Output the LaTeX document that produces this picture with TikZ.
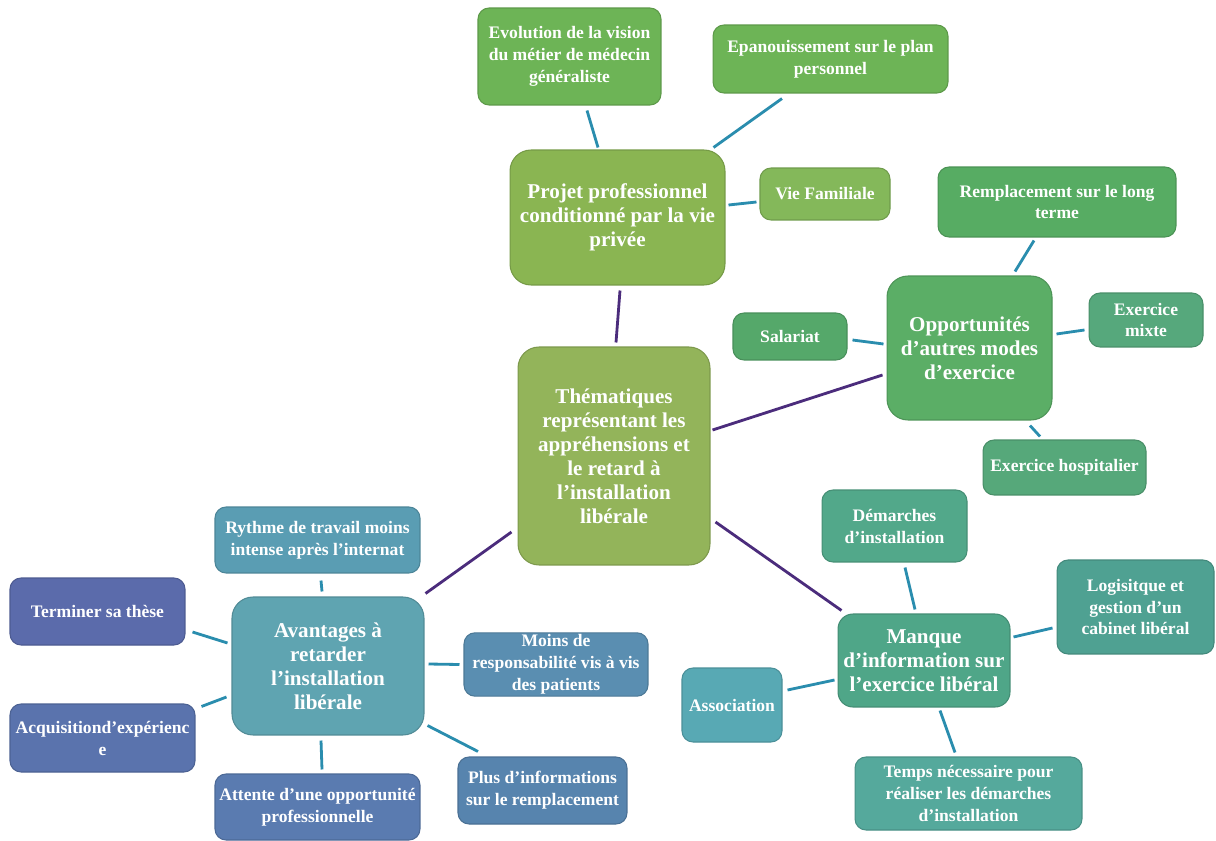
\documentclass[tikz,border=0pt]{standalone}
\usepackage{fontspec}
\setmainfont{Liberation Serif}
\usetikzlibrary{calc}
\definecolor{cCenter}{HTML}{93B45A}
\definecolor{cProjet}{HTML}{8AB552}
\definecolor{cVie}{HTML}{84B85A}
\definecolor{cEvo}{HTML}{6DB456}
\definecolor{cOpp}{HTML}{5BAE66}
\definecolor{cRempl}{HTML}{57AC63}
\definecolor{cSal}{HTML}{55A86A}
\definecolor{cMixte}{HTML}{56A87C}
\definecolor{cHosp}{HTML}{56A87A}
\definecolor{cManque}{HTML}{4FA688}
\definecolor{cDem}{HTML}{52A88A}
\definecolor{cLogi}{HTML}{4FA192}
\definecolor{cAssoc}{HTML}{58A9B4}
\definecolor{cTemps}{HTML}{55A99C}
\definecolor{cAvant}{HTML}{5FA4B1}
\definecolor{cRythme}{HTML}{5A9DB3}
\definecolor{cMoins}{HTML}{5A8EB1}
\definecolor{cPlus}{HTML}{5784AE}
\definecolor{cTerm}{HTML}{5B6BAB}
\definecolor{cAcq}{HTML}{5A73AD}
\definecolor{cAtt}{HTML}{5A7BB0}
\definecolor{cLink}{HTML}{2A8DAE}
\definecolor{cMain}{HTML}{4B2C7C}
\begin{document}
\begin{tikzpicture}[x=0.02cm,y=-0.02cm,
  box/.style={rectangle, rounded corners=0.22cm, fill=#1, draw=#1!85!black, line width=0.6pt,
    text=white, align=center, inner sep=1pt,
    font=\bfseries\fontsize{10}{12.5}\selectfont},
  bigbox/.style={box=#1, rounded corners=0.42cm, font=\bfseries\fontsize{12}{13.7}\selectfont},
  link/.style={draw=cLink, line width=1.6pt},
  mainlink/.style={draw=cMain, line width=1.6pt}]
\useasboundingbox (0,0) rectangle (1216,841);
\fill[white] (0,0) rectangle (1216,841);

% top group
\node[box=cEvo, minimum width=3.66cm, minimum height=1.94cm] (evo) at (569.5,56.5) {Evolution de la vision\\du métier de médecin\\généraliste};
\node[box=cEvo, minimum width=4.70cm, minimum height=1.36cm] (epa) at (830.5,59) {Epanouissement sur le plan\\personnel};
\node[bigbox=cProjet, minimum width=4.30cm, minimum height=2.70cm] (projet) at (617.5,217.5) {Projet professionnel\\conditionné par la vie\\privée};
\node[box=cVie, minimum width=2.60cm, minimum height=1.04cm] (vie) at (825,194) {Vie Familiale};

% right group
\node[box=cRempl, minimum width=4.76cm, minimum height=1.40cm] (rempl) at (1057,202) {Remplacement sur le long\\terme};
\node[bigbox=cOpp, minimum width=3.30cm, minimum height=2.88cm] (opp) at (969.5,348) {Opportunités\\d'autres modes\\d'exercice};
\node[box=cSal, minimum width=2.28cm, minimum height=0.94cm] (sal) at (790,336.5) {Salariat};
\node[box=cMixte, minimum width=2.28cm, minimum height=1.08cm] (mixte) at (1146,320) {Exercice\\mixte};
\node[box=cHosp, minimum width=3.26cm, minimum height=1.10cm] (hosp) at (1064.5,467.5) {Exercice hospitalier};

% center
\node[bigbox=cCenter, minimum width=3.84cm, minimum height=4.36cm] (center) at (614,456) {Thématiques\\représentant les\\appréhensions et\\le retard à\\l'installation\\libérale};

% bottom right group
\node[box=cDem, minimum width=2.90cm, minimum height=1.44cm] (dem) at (894.5,526) {Démarches\\d'installation};
\node[box=cLogi, minimum width=3.14cm, minimum height=1.88cm] (logi) at (1135.5,607) {Logisitque et\\gestion d'un\\cabinet libéral};
\node[bigbox=cManque, rounded corners=0.3cm, minimum width=3.44cm, minimum height=1.86cm] (manque) at (924,660.5) {Manque\\d'information sur\\l'exercice libéral};
\node[box=cAssoc, minimum width=2.00cm, minimum height=1.48cm] (assoc) at (732,705) {Association};
\node[box=cTemps, minimum width=4.54cm, minimum height=1.46cm] (temps) at (968.5,793.5) {Temps nécessaire pour\\réaliser les démarches\\d'installation};

% bottom left group
\node[box=cRythme, minimum width=4.10cm, minimum height=1.32cm] (rythme) at (317.5,540) {Rythme de travail moins\\intense après l'internat};
\node[box=cTerm, minimum width=3.50cm, minimum height=1.34cm] (term) at (97.5,611.5) {Terminer sa thèse};
\node[bigbox=cAvant, minimum width=3.84cm, minimum height=2.76cm] (avant) at (328,666) {Avantages à\\retarder\\l'installation\\libérale};
\node[box=cMoins, minimum width=3.68cm, minimum height=1.26cm] (moins) at (556,664.5) {Moins de\\responsabilité vis à vis\\des patients};
\node[box=cAcq, minimum width=3.70cm, minimum height=1.36cm] (acq) at (102.5,738) {Acquisitiond'expérienc\\e};
\node[box=cAtt, minimum width=4.10cm, minimum height=1.32cm] (att) at (317.5,807) {Attente d'une opportunité\\professionnelle};
\node[box=cPlus, minimum width=3.38cm, minimum height=1.34cm] (plus) at (542.5,790.5) {Plus d'informations\\sur le remplacement};

% teal connectors
\draw[link] ($(evo.south)+(17.5,5)$) -- ($(projet.north)+(-19.5,-2)$);
\draw[link] ($(epa.south)+(-48.5,5)$) -- ($(projet.north east)+(-12,-2)$);
\draw[link] ($(vie.west)+(-3,8)$) -- ($(projet.east)+(3,-12.5)$);
\draw[link] ($(rempl.south)+(-23,3)$) -- ($(opp.north)+(45.5,-4)$);
\draw[link] ($(sal.east)+(5,3.5)$) -- ($(opp.west)+(-3,-4)$);
\draw[link] ($(mixte.west)+(-4,10)$) -- ($(opp.east)+(4,-14)$);
\draw[link] ($(hosp.north)+(-24.5,-3)$) -- ($(opp.south)+(60.5,5)$);
\draw[link] ($(dem.south)+(10.5,5)$) -- ($(manque.north)+(-9,-4)$);
\draw[link] ($(logi.west)+(-4,21)$) -- ($(manque.east)+(3,-23.5)$);
\draw[link] ($(assoc.east)+(5,-15)$) -- ($(manque.west)+(-3,19.5)$);
\draw[link] ($(temps.north)+(-13.5,-4)$) -- ($(manque.south)+(16,3)$);
\draw[link] ($(rythme.south)+(3.5,7)$) -- ($(avant.north)+(-6,-5)$);
\draw[link] ($(term.east)+(7,20.5)$) -- ($(avant.west)+(-4,-23)$);
\draw[link] ($(acq.north east)+(6,3)$) -- ($(avant.west)+(-5,31)$);
\draw[link] ($(att.north)+(4.5,-4)$) -- ($(avant.south)+(-7,5)$);
\draw[link] ($(moins.west)+(-4,0)$) -- ($(avant.east)+(4,-2)$);
\draw[link] ($(plus.north)+(-64.5,-5)$) -- ($(avant.south east)+(3,-10)$);

% purple connectors
\draw[mainlink] ($(projet.south)+(2.5,5)$) -- ($(center.north)+(2,-4)$);
\draw[mainlink] ($(center.east)+(2,-26)$) -- ($(opp.west)+(-4,27)$);
\draw[mainlink] ($(avant.north east)+(1,-3)$) -- ($(center.west)+(-6,76)$);
\draw[mainlink] ($(center.east)+(5,66)$) -- ($(manque.north west)+(4,-3)$);
\end{tikzpicture}
\end{document}
